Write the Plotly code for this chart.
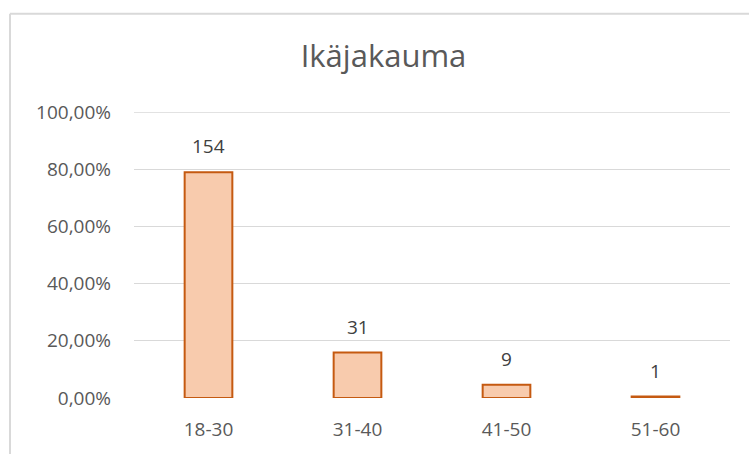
import plotly.graph_objects as go

categories = ["18-30", "31-40", "41-50", "51-60"]
counts = [154, 31, 9, 1]
shares = [0.7897, 0.159, 0.0462, 0.0051]
y_ticks = [0, 0.2, 0.4, 0.6, 0.8, 1.0]
y_tick_labels = ["0,00%", "20,00%", "40,00%", "60,00%", "80,00%", "100,00%"]

FONT = "Open Sans, Liberation Sans, sans-serif"
GREY = "#595959"

fig = go.Figure()
fig.add_trace(go.Bar(
    x=categories,
    y=shares,
    marker=dict(color="#F8CBAD", line=dict(color="#C55A11", width=2)),
    width=0.32,
    hoverinfo="x+y",
))

for cat, val, cnt in zip(categories, shares, counts):
    fig.add_annotation(
        x=cat, y=val, text=str(cnt), showarrow=False,
        yanchor="middle", yshift=26,
        font=dict(family=FONT, size=19, color="#404040"),
    )

L, R, T, B = 134, 19, 112, 54
W, H = 749, 454
pw, ph = W - L - R, H - T - B

def px_to_paper_x(px):
    return (px - L) / pw

def px_to_paper_y(py):
    return (H - B - py) / ph

fig.update_layout(
    width=W, height=H,
    margin=dict(l=L, r=R, t=T, b=B),
    paper_bgcolor="white",
    plot_bgcolor="white",
    showlegend=False,
    title=dict(
        text="Ikäjakauma",
        x=383.5 / W, xref="container", xanchor="center",
        y=1 - 56 / H, yref="container", yanchor="middle",
        font=dict(family=FONT, size=31, color=GREY),
    ),
    xaxis=dict(
        showgrid=False, zeroline=False, showline=False,
        ticks="", tickfont=dict(family=FONT, size=19, color=GREY),
        ticklabelstandoff=18,
    ),
    yaxis=dict(
        range=[0, 1.0],
        tickvals=y_ticks, ticktext=y_tick_labels,
        showgrid=True, gridcolor="#D9D9D9", gridwidth=1.3,
        zeroline=False, showline=False, ticks="",
        tickfont=dict(family=FONT, size=19, color=GREY),
        ticklabelstandoff=22,
    ),
    shapes=[
        dict(type="line", xref="paper", yref="y", layer="below",
             x0=0, x1=1, y0=y_ticks[-1], y1=y_ticks[-1],
             line=dict(color="#D9D9D9", width=1.3)),
        dict(type="line", xref="paper", yref="paper",
             x0=px_to_paper_x(10), x1=px_to_paper_x(760),
             y0=px_to_paper_y(13), y1=px_to_paper_y(13),
             line=dict(color="#D9D9D9", width=2)),
        dict(type="line", xref="paper", yref="paper",
             x0=px_to_paper_x(10), x1=px_to_paper_x(10),
             y0=px_to_paper_y(13), y1=px_to_paper_y(470),
             line=dict(color="#D9D9D9", width=2)),
    ],
)

fig.write_html("out.html")
